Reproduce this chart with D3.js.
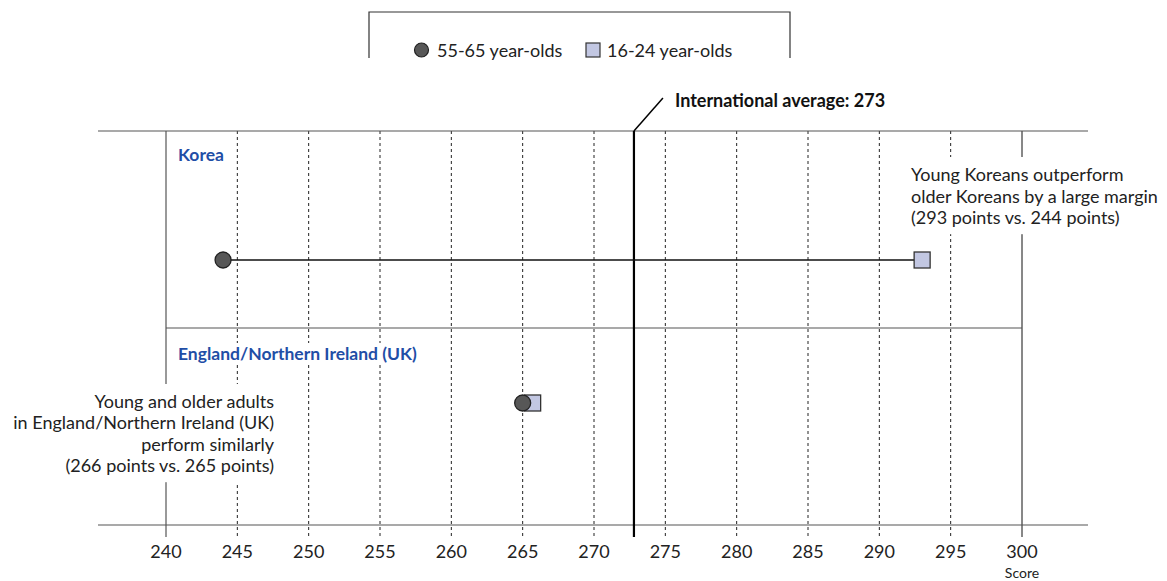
<!DOCTYPE html>
<html>
<head>
<meta charset="utf-8">
<script src="https://cdn.jsdelivr.net/npm/d3@7"></script>
<style>
body { margin: 0; background: #fff; }
text { font-family: Lato, "Open Sans", sans-serif; }
</style>
</head>
<body>
<script>
var w = 1167;
var h = 581;

// data
var countries = ["Korea", "England/Northern Ireland (UK)"];
var older = [244, 265];      // 55-65 year-olds
var younger = [293, 265.7];  // 16-24 year-olds
var intlAvg = 272.8;
var intlLabel = "International average: 273";
var ticks = [240, 245, 250, 255, 260, 265, 270, 275, 280, 285, 290, 295, 300];
var legendLabels = ["55-65 year-olds", "16-24 year-olds"];
var noteKorea = ["Young Koreans outperform", "older Koreans by a large margin", "(293 points vs. 244 points)"];
var noteUK = ["Young and older adults", "in England/Northern Ireland (UK)", "perform similarly", "(266 points vs. 265 points)"];

var svg = d3.select("body")
            .append("svg")
            .attr("width", w)
            .attr("height", h);

var x = d3.scaleLinear().domain([240, 300]).range([166, 1022]);
var y = d3.scaleBand().domain(countries).range([131, 525]);

var plotTop = 131, plotBottom = 525;

// dashed gridlines
svg.selectAll("line.grid")
    .data(ticks.slice(1, -1))
    .enter().append("line")
        .attr("class", "grid")
        .attr("x1", function(d) { return x(d); })
        .attr("x2", function(d) { return x(d); })
        .attr("y1", plotTop)
        .attr("y2", plotBottom + 11)
        .attr("stroke", "#222")
        .attr("stroke-width", 1)
        .attr("stroke-dasharray", "3,3");

// frame lines
svg.append("line").attr("x1", x(240)).attr("x2", x(240)).attr("y1", plotTop).attr("y2", plotBottom + 12)
    .attr("stroke", "#777").attr("stroke-width", 1.5);
svg.append("line").attr("x1", x(300)).attr("x2", x(300)).attr("y1", plotTop).attr("y2", plotBottom + 12)
    .attr("stroke", "#111").attr("stroke-width", 1);
svg.append("line").attr("x1", 98).attr("x2", 1088).attr("y1", plotTop).attr("y2", plotTop)
    .attr("stroke", "#555").attr("stroke-width", 1.2);
svg.append("line").attr("x1", 98).attr("x2", 1088).attr("y1", plotBottom).attr("y2", plotBottom)
    .attr("stroke", "#555").attr("stroke-width", 1.2);
svg.append("line").attr("x1", x(240)).attr("x2", x(300)).attr("y1", 328).attr("y2", 328)
    .attr("stroke", "#555").attr("stroke-width", 1.2);

// axis labels
svg.selectAll("text.tick")
    .data(ticks)
    .enter().append("text")
        .attr("class", "tick")
        .attr("x", function(d) { return x(d); })
        .attr("y", 558)
        .attr("text-anchor", "middle")
        .attr("font-size", "18px")
        .attr("fill", "#222")
        .text(function(d) { return d; });
svg.append("text").attr("x", x(300)).attr("y", 578).attr("text-anchor", "middle")
    .attr("font-size", "14px").attr("fill", "#222").text("Score");

// text block with one white backing rect
function noteBlock(lines, tx, ty, anchor, lh) {
    var g = svg.append("g");
    var t = g.selectAll("text").data(lines).enter().append("text")
        .attr("x", tx)
        .attr("y", function(d, i) { return ty + i * lh; })
        .attr("text-anchor", anchor)
        .attr("font-size", "18px")
        .attr("fill", "#222")
        .text(function(d) { return d; });
    var b = g.node().getBBox();
    g.insert("rect", "text").attr("x", b.x - 4).attr("y", b.y - 6).attr("width", b.width + 8)
        .attr("height", b.height + 12).attr("fill", "#fff");
}
noteBlock(noteKorea, 911, 181, "start", 21.6);
noteBlock(noteUK, 274, 408, "end", 21.4);

// country labels
var labelY = [161, 360];
countries.forEach(function(c, i) {
    var g = svg.append("g");
    var t = g.append("text")
        .attr("x", 178)
        .attr("y", labelY[i])
        .attr("font-size", "17.5px")
        .attr("font-weight", "bold")
        .attr("fill", "#1f4ea6")
        .text(c);
    var b = t.node().getBBox();
    g.insert("rect", "text").attr("x", b.x - 2).attr("y", b.y).attr("width", b.width + 4)
        .attr("height", b.height).attr("fill", "#fff");
});

// international average
svg.append("line").attr("x1", x(intlAvg)).attr("x2", x(intlAvg)).attr("y1", plotTop).attr("y2", plotBottom + 12)
    .attr("stroke", "#000").attr("stroke-width", 2.2);
svg.append("line").attr("x1", x(intlAvg)).attr("x2", x(intlAvg) + 29).attr("y1", plotTop).attr("y2", 98)
    .attr("stroke", "#000").attr("stroke-width", 1.5);
svg.append("text").attr("x", x(intlAvg) + 41).attr("y", 107)
    .attr("font-size", "18px").attr("font-weight", "bold").attr("fill", "#111").text(intlLabel);

// dumbbells
var rowY = [260, 403];
svg.selectAll("line.link")
    .data(countries)
    .enter().append("line")
        .attr("class", "link")
        .attr("x1", function(d, i) { return x(older[i]); })
        .attr("x2", function(d, i) { return x(younger[i]); })
        .attr("y1", function(d, i) { return rowY[i]; })
        .attr("y2", function(d, i) { return rowY[i]; })
        .attr("stroke", "#111")
        .attr("stroke-width", 1.5);

svg.selectAll("rect.young")
    .data(countries)
    .enter().append("rect")
        .attr("class", "young")
        .attr("x", function(d, i) { return x(younger[i]) - 8; })
        .attr("y", function(d, i) { return rowY[i] - 8; })
        .attr("width", 16)
        .attr("height", 16)
        .attr("fill", "#c2c7e2")
        .attr("stroke", "#333")
        .attr("stroke-width", 1.3);

svg.selectAll("circle.old")
    .data(countries)
    .enter().append("circle")
        .attr("class", "old")
        .attr("cx", function(d, i) { return x(older[i]); })
        .attr("cy", function(d, i) { return rowY[i]; })
        .attr("r", 8)
        .attr("fill", "#575757")
        .attr("stroke", "#222")
        .attr("stroke-width", 1.3);

// legend
svg.append("path").attr("d", "M369,58 V12 H790 V58").attr("fill", "none")
    .attr("stroke", "#333").attr("stroke-width", 1.2);
svg.append("circle").attr("cx", 421.5).attr("cy", 50).attr("r", 7)
    .attr("fill", "#575757").attr("stroke", "#222").attr("stroke-width", 1.2);
svg.append("rect").attr("x", 586).attr("y", 43).attr("width", 14).attr("height", 14)
    .attr("fill", "#c2c7e2").attr("stroke", "#333").attr("stroke-width", 1.2);
svg.selectAll("text.leg")
    .data(legendLabels)
    .enter().append("text")
        .attr("class", "leg")
        .attr("x", function(d, i) { return i === 0 ? 437 : 607; })
        .attr("y", 57)
        .attr("font-size", "18px")
        .attr("fill", "#222")
        .text(function(d) { return d; });
</script>
</body>
</html>
